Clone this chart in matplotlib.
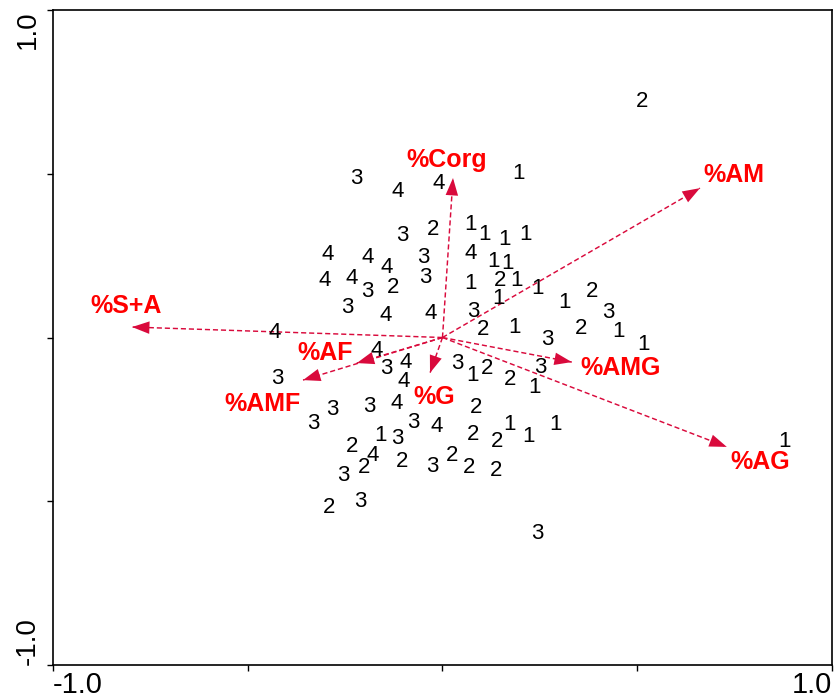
import matplotlib
matplotlib.use('Agg')
import matplotlib.pyplot as plt

# sample scores (group number written at each position)
groups = ['2', '3', '4', '4', '1', '3', '2', '1', '1', '1', '1', '4', '4', '4', '3', '4',
          '1', '1', '4', '4', '3', '2', '3', '1', '2', '1', '1', '1', '3', '4', '4', '3',
          '2', '1', '3', '1', '2', '3', '2', '1', '1', '4', '4', '3', '4', '4', '3', '1',
          '2', '2', '3', '1', '3', '2', '3', '3', '3', '4', '3', '4', '1', '3', '2', '2',
          '1', '1', '1', '2', '4', '2', '3', '2', '2', '2', '3', '2', '2', '3', '3', '1']
xs = [0.512, -0.222, -0.114, -0.009, 0.196, -0.104, -0.024, 0.071, 0.107, 0.158, 0.212,
      -0.294, -0.191, -0.142, -0.050, 0.073, 0.132, 0.168, -0.302, -0.232, -0.194, -0.127,
      -0.045, 0.071, 0.148, 0.191, 0.245, 0.145, -0.245, -0.145, -0.030, 0.078, 0.104,
      0.184, 0.268, 0.312, 0.384, 0.425, 0.356, 0.453, 0.515, -0.430, -0.168, -0.145,
      -0.094, -0.099, 0.037, 0.076, 0.114, 0.173, 0.250, 0.237, -0.425, 0.086, -0.284,
      -0.332, -0.189, -0.117, -0.076, -0.014, -0.160, -0.117, 0.078, 0.140, 0.171, 0.220,
      0.289, -0.232, -0.178, -0.104, -0.027, 0.024, 0.068, 0.137, -0.255, -0.202, -0.291,
      -0.212, 0.243, 0.879]
ys = [0.722, 0.487, 0.447, 0.469, 0.502, 0.310, 0.331, 0.344, 0.313, 0.298, 0.313,
      0.252, 0.243, 0.215, 0.243, 0.258, 0.231, 0.227, 0.173, 0.179, 0.142, 0.154,
      0.182, 0.166, 0.173, 0.173, 0.151, 0.118, 0.093, 0.066, 0.072, 0.078, 0.023,
      0.032, -0.005, 0.108, 0.142, 0.075, 0.029, 0.017, -0.020, 0.014, -0.041, -0.096,
      -0.075, -0.133, -0.078, -0.115, -0.096, -0.127, -0.093, -0.154, -0.124, -0.215,
      -0.221, -0.264, -0.212, -0.200, -0.258, -0.273, -0.298, -0.307, -0.295, -0.316,
      -0.267, -0.301, -0.267, -0.334, -0.359, -0.380, -0.395, -0.359, -0.398, -0.405,
      -0.420, -0.398, -0.518, -0.502, -0.597, -0.319]

# environmental variable arrows
var_names = ['%AM', '%AMG', '%AG', '%Corg', '%S+A', '%AF', '%AMF', '%G']
var_x = [0.661, 0.332, 0.730, 0.027, -0.797, -0.220, -0.358, -0.032]
var_y = [0.456, -0.075, -0.334, 0.487, 0.032, -0.078, -0.130, -0.108]
lab_x = [0.748, 0.456, 0.815, 0.012, -0.813, -0.302, -0.463, -0.022]
lab_y = [0.496, -0.093, -0.380, 0.542, 0.096, -0.047, -0.203, -0.182]

arrow_col = '#d90a3c'
text_col = '#ff0000'

fig = plt.figure(figsize=(8.37, 6.99), dpi=100)
ax = fig.add_axes([0.0633, 0.0486, 0.9307, 0.9371])

for g, x, y in zip(groups, xs, ys):
    ax.text(x, y, g, ha='center', va='center', fontsize=16,
            family='Liberation Sans', color='black')

for name, vx, vy, lx, ly in zip(var_names, var_x, var_y, lab_x, lab_y):
    # dashed shaft
    ax.plot([0, vx], [0, vy], color=arrow_col, lw=1.05, linestyle=(0, (3.5, 2)))
    # solid filled head
    ax.annotate('', xy=(vx, vy), xytext=(0, 0),
                arrowprops=dict(arrowstyle='-|>,head_length=1.0,head_width=0.36',
                                color=arrow_col, lw=0, shrinkA=0, shrinkB=0,
                                mutation_scale=12.5))
    ax.text(lx, ly, name, ha='center', va='center', fontsize=18,
            fontweight='bold', family='Liberation Sans', color=text_col)

ax.set_xlim(-1, 1)
ax.set_ylim(-1, 1)
ticks = [-1, -0.5, 0, 0.5, 1]
ax.set_xticks(ticks)
ax.set_yticks(ticks)
ax.set_xticklabels(['-1.0', '', '', '', '1.0'], fontsize=21, family='Liberation Sans')
ax.set_yticklabels(['-1.0', '', '', '', '1.0'], fontsize=20, family='Liberation Sans',
                   rotation=90)
xl = ax.get_xticklabels()
xl[0].set_ha('left')
xl[-1].set_ha('right')
yl = ax.get_yticklabels()
yl[0].set_va('bottom')
yl[-1].set_va('top')
ax.tick_params(axis='both', direction='out', length=4, width=1.0)
ax.tick_params(axis='x', pad=0.5)
ax.tick_params(axis='y', pad=4.5)
for s in ax.spines.values():
    s.set_linewidth(1.2)

plt.savefig('out.png', dpi=100)
